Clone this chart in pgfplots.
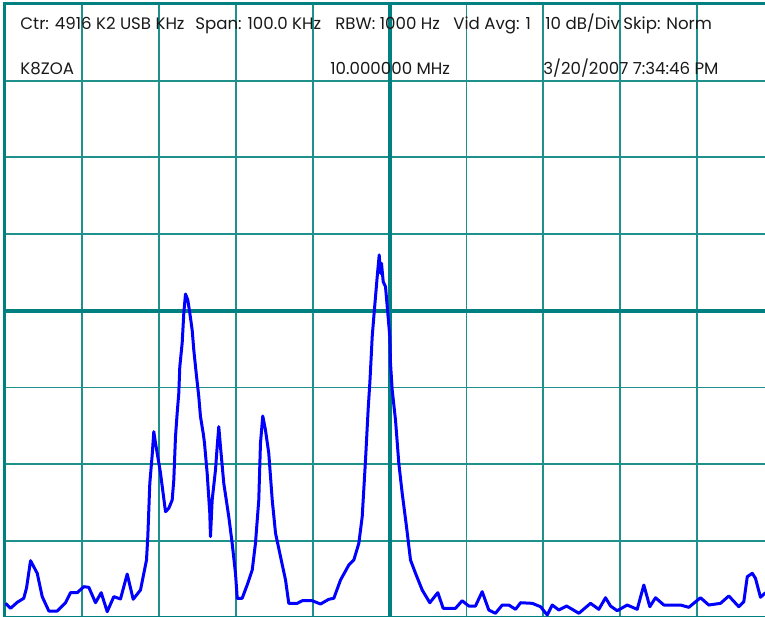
\documentclass[border=0pt]{standalone}
\usepackage{pgfplots}
\pgfplotsset{compat=1.18}
\usepackage{fontspec}
\setmainfont{Poppins}
\definecolor{gridthin}{RGB}{30,145,140}
\definecolor{gridthick}{RGB}{0,128,128}
\definecolor{trace}{RGB}{0,0,255}

% 1 px of the reference = 0.5pt
\begin{document}
\begin{tikzpicture}
\begin{axis}[
    at={(2.5pt,306pt)}, anchor=north west,
    scale only axis,
    width=384.5pt, height=306.8pt,
    xmin=-50, xmax=50, ymin=-80, ymax=0,
    xtick distance=10, ytick distance=10,
    xmajorticks=false, ymajorticks=false,
    grid=major,
    major grid style={gridthin, line width=0.9pt},
    extra x ticks={0}, extra y ticks={-40},
    extra tick style={major grid style={gridthick, line width=2pt}},
    axis line style={gridthick, line width=1.5pt},
    clip=true,
]
\addplot[trace, line width=1.5pt, line join=round] coordinates {
(-49.93,-78.14) (-49.28,-78.79) (-48.41,-78.01) (-47.56,-77.48) (-47.20,-76.14)
(-46.68,-72.58) (-45.81,-74.22) (-45.16,-77.27) (-44.30,-79.14) (-43.21,-79.14)
(-42.13,-78.06) (-41.48,-76.75) (-40.61,-76.75) (-39.75,-75.97) (-39.10,-76.05)
(-38.23,-78.06) (-37.49,-76.75) (-36.71,-79.23) (-35.85,-77.27) (-34.98,-77.57)
(-34.11,-74.32) (-33.33,-77.61) (-32.38,-76.40) (-31.60,-72.49) (-31.43,-69.45)
(-31.17,-62.49) (-30.86,-58.80) (-30.65,-55.76) (-30.43,-57.24) (-29.78,-61.15)
(-29.13,-66.19) (-28.70,-65.75) (-28.26,-64.67) (-28.05,-62.06) (-27.83,-56.41)
(-27.61,-53.32) (-27.40,-50.72) (-27.27,-47.29) (-26.96,-44.20) (-26.75,-40.33)
(-26.53,-37.81) (-26.23,-38.59) (-25.97,-40.29) (-25.66,-42.50) (-25.45,-45.11)
(-25.14,-48.11) (-24.80,-51.20) (-24.58,-53.81) (-24.23,-55.93) (-24.06,-57.24)
(-23.71,-61.19) (-23.37,-66.40) (-23.28,-69.45) (-23.06,-64.67) (-22.63,-60.76)
(-22.41,-57.72) (-22.20,-55.11) (-21.98,-57.72) (-21.55,-62.49) (-20.90,-66.85)
(-20.46,-70.31) (-20.03,-74.22) (-19.80,-77.48) (-19.16,-77.48) (-18.51,-75.75)
(-17.85,-73.79) (-17.43,-70.31) (-17.00,-64.67) (-16.78,-57.28) (-16.48,-53.72)
(-16.13,-55.54) (-15.70,-58.58) (-15.25,-64.67) (-14.82,-69.01) (-14.17,-72.06)
(-13.52,-75.10) (-13.10,-78.14) (-12.00,-78.14) (-11.35,-77.80) (-10.05,-77.80)
(-8.97,-78.23) (-7.89,-77.61) (-7.24,-77.48) (-6.37,-75.10) (-5.29,-73.14)
(-4.64,-72.49) (-3.99,-70.31) (-3.55,-66.85) (-3.12,-59.45) (-2.77,-52.71)
(-2.56,-49.45) (-2.38,-45.98) (-2.25,-43.38) (-2.04,-40.77) (-1.82,-38.16)
(-1.60,-35.55) (-1.34,-32.72) (-1.17,-35.11) (-1.04,-33.81) (-0.82,-36.21)
(-0.52,-36.86) (-0.22,-40.33) (0.04,-43.38) (0.13,-46.85) (0.35,-50.33)
(0.78,-54.24) (1.21,-59.88) (1.65,-63.79) (2.21,-68.15) (2.73,-72.49)
(3.38,-74.22) (4.25,-76.40) (5.24,-78.06) (6.28,-76.75) (6.98,-78.79)
(8.58,-78.79) (9.45,-77.80) (10.31,-78.49) (11.18,-78.49) (12.05,-76.62)
(12.91,-79.01) (13.78,-79.44) (14.66,-78.36) (15.51,-78.36) (16.39,-78.92)
(17.04,-78.06) (18.56,-78.14) (19.64,-78.58) (20.51,-79.66) (21.16,-78.36)
(22.02,-79.01) (23.02,-78.49) (23.76,-78.92) (24.62,-79.44) (26.14,-78.14)
(27.22,-78.92) (28.09,-77.41) (28.74,-78.49) (29.61,-79.10) (30.91,-78.36)
(32.21,-78.92) (33.07,-75.75) (33.85,-78.58) (34.59,-77.41) (35.67,-78.36)
(37.84,-78.36) (38.92,-78.66) (40.44,-77.41) (41.52,-78.36) (43.04,-78.14)
(44.12,-77.18) (45.42,-78.58) (46.07,-77.93) (46.52,-74.67) (47.17,-74.22)
(47.59,-74.88) (48.24,-77.35) (48.90,-76.75)
};
\end{axis}
\begin{scope}[every node/.style={anchor=base west, inner sep=0pt, font=\fontsize{8.3pt}{9pt}\selectfont, text=black!90}]
\node at (10pt,293.35pt) {Ctr: 4916 K2 USB KHz};
\node at (97.5pt,293.35pt) {Span: 100.0 KHz};
\node at (167.5pt,293.35pt) {RBW: 1000 Hz};
\node at (226.5pt,293.35pt) {Vid Avg: 1};
\node at (272.5pt,293.35pt) {10 dB/Div};
\node at (311.5pt,293.35pt) {Skip: Norm};
\node at (10pt,270.5pt) {K8ZOA};
\node at (165pt,270.5pt) {10.000000 MHz};
\node at (271.5pt,270.5pt) {3/20/2007 7:34:46 PM};
\end{scope}
\pgfresetboundingbox
\useasboundingbox (0,0) rectangle (382.5pt,308pt);
\end{tikzpicture}
\end{document}
